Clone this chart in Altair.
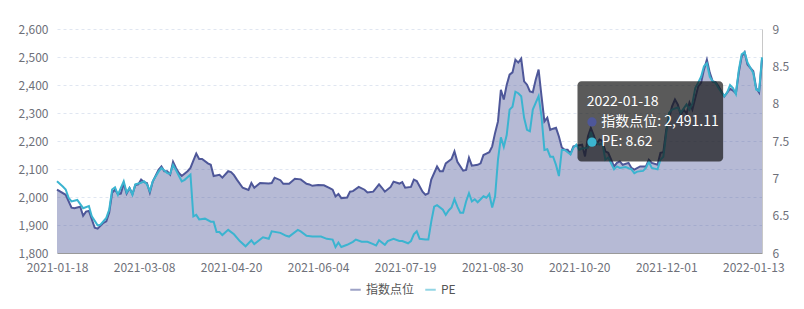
import altair as alt
import pandas as pd

# ---------------- data ----------------
x_labels = ["2021-01-18", "2021-03-08", "2021-04-20", "2021-06-04", "2021-07-19",
            "2021-08-30", "2021-10-20", "2021-12-01", "2022-01-13"]

idx_days = [0, 3, 5, 6, 8, 9, 10, 11, 13, 14, 16, 17, 18, 19, 20, 21, 22, 23, 24, 25,
            26, 27, 28, 29, 30, 31, 32, 33, 35, 36, 37, 38, 39, 40, 41, 42, 43, 45, 46, 47,
            48, 49, 50, 52, 53, 54, 56, 57, 59, 60, 61, 62, 64, 66, 67, 68, 70, 73, 74, 75,
            77, 78, 80, 82, 84, 86, 87, 88, 90, 92, 94, 95, 96, 97, 98, 100, 101, 102, 104, 106,
            107, 109, 111, 112, 113, 115, 116, 118, 119, 120, 122, 123, 124, 126, 127, 128, 129, 131, 132, 133,
            134, 136, 137, 138, 140, 141, 142, 143, 145, 146, 147, 148, 149, 150, 151, 152, 153, 154, 155, 156,
            157, 158, 159, 160, 161, 162, 163, 164, 165, 166, 167, 168, 169, 170, 171, 172, 173, 174, 175, 176,
            177, 178, 180, 181, 182, 183, 184, 185, 186, 187, 188, 189, 190, 192, 193, 194, 195, 197, 198, 199,
            201, 203, 204, 205, 207, 208, 209, 210, 212, 213, 214, 215, 216, 217, 218, 219, 221, 222, 223, 224,
            225, 226, 227, 228, 230, 231, 232, 233, 234, 235, 236, 237, 238, 240, 241, 242, 243]
idx_vals = [2026, 2008, 1962, 1960, 1965, 1933, 1948, 1950, 1890, 1887, 1908, 1913, 1945, 2015, 2026, 2010, 2012, 2048, 2012, 2032,
            2010, 2043, 2045, 2062, 2053, 2050, 2016, 2055, 2097, 2109, 2092, 2092, 2080, 2126, 2104, 2086, 2075, 2092, 2104, 2130,
            2155, 2136, 2136, 2120, 2115, 2075, 2079, 2069, 2092, 2089, 2078, 2062, 2033, 2025, 2050, 2033, 2050, 2048, 2050, 2069,
            2060, 2047, 2047, 2065, 2063, 2047, 2045, 2040, 2043, 2042, 2032, 2026, 2002, 2011, 1996, 1998, 2019, 2021, 2036, 2026,
            2016, 2019, 2045, 2033, 2019, 2036, 2055, 2048, 2053, 2033, 2036, 2062, 2057, 2019, 2008, 2013, 2062, 2109, 2092, 2092,
            2120, 2136, 2163, 2126, 2094, 2097, 2140, 2112, 2115, 2120, 2150, 2155, 2160, 2181, 2229, 2270, 2383, 2348, 2400, 2437,
            2445, 2490, 2480, 2494, 2413, 2401, 2377, 2374, 2419, 2455, 2360, 2270, 2283, 2240, 2244, 2247, 2216, 2177, 2169, 2169,
            2155, 2181, 2185, 2187, 2145, 2216, 2247, 2220, 2190, 2205, 2200, 2163, 2158, 2109, 2122, 2127, 2115, 2122, 2104, 2098,
            2109, 2109, 2133, 2122, 2115, 2158, 2160, 2240, 2324, 2348, 2330, 2294, 2312, 2298, 2337, 2312, 2395, 2408, 2455, 2490,
            2444, 2413, 2410, 2395, 2359, 2373, 2387, 2380, 2370, 2444, 2502, 2517, 2473, 2449, 2389, 2373, 2491.11]

pe_days = [0, 2, 3, 4, 5, 7, 9, 11, 12, 14, 15, 17, 18, 19, 20, 21, 23, 24, 25, 26,
           27, 29, 30, 31, 32, 33, 35, 36, 38, 39, 40, 41, 43, 44, 46, 47, 48, 49, 51, 53,
           54, 55, 56, 57, 59, 61, 63, 65, 67, 68, 71, 73, 74, 77, 79, 80, 83, 84, 86, 88,
           90, 91, 93, 95, 96, 97, 98, 100, 102, 103, 105, 107, 109, 110, 111, 113, 114, 116, 118, 119,
           121, 122, 123, 124, 125, 127, 128, 129, 130, 131, 133, 134, 135, 136, 137, 138, 139, 140, 141, 142,
           143, 144, 145, 147, 148, 149, 150, 151, 152, 153, 154, 155, 156, 157, 158, 159, 160, 161, 162, 163,
           164, 166, 167, 168, 169, 170, 171, 172, 173, 174, 175, 177, 178, 179, 180, 181, 183, 184, 185, 186,
           187, 188, 189, 190, 192, 193, 194, 196, 198, 199, 200, 202, 203, 204, 205, 207, 208, 209, 210, 211,
           212, 214, 215, 217, 218, 219, 220, 221, 222, 223, 224, 225, 226, 227, 228, 230, 231, 232, 233, 234,
           235, 236, 237, 238, 240, 241, 242, 243]
pe_vals = [6.96, 6.89, 6.85, 6.74, 6.69, 6.71, 6.60, 6.63, 6.49, 6.37, 6.38, 6.47, 6.58, 6.85, 6.88, 6.78, 6.96, 6.81, 6.87, 6.78,
           6.92, 6.94, 6.96, 6.92, 6.83, 6.96, 7.09, 7.14, 7.07, 7.06, 7.18, 7.11, 6.96, 6.98, 7.05, 6.49, 6.51, 6.45, 6.46, 6.42,
           6.42, 6.28, 6.28, 6.24, 6.31, 6.25, 6.16, 6.09, 6.17, 6.12, 6.21, 6.19, 6.29, 6.27, 6.23, 6.22, 6.31, 6.29, 6.23, 6.22,
           6.22, 6.22, 6.19, 6.18, 6.08, 6.14, 6.08, 6.11, 6.15, 6.18, 6.15, 6.15, 6.12, 6.10, 6.17, 6.11, 6.16, 6.19, 6.16, 6.16,
           6.13, 6.16, 6.25, 6.29, 6.19, 6.18, 6.18, 6.42, 6.62, 6.64, 6.58, 6.51, 6.57, 6.61, 6.72, 6.62, 6.54, 6.54, 6.69, 6.80,
           6.69, 6.72, 6.68, 6.76, 6.74, 6.79, 6.61, 6.76, 7.25, 7.55, 7.42, 7.58, 7.92, 7.96, 8.16, 8.14, 8.10, 7.81, 7.65, 7.63,
           7.92, 8.10, 7.83, 7.38, 7.39, 7.29, 7.29, 7.18, 7.03, 7.38, 7.38, 7.32, 7.41, 7.45, 7.38, 7.40, 7.41, 7.62, 7.50, 7.47,
           7.45, 7.47, 7.25, 7.28, 7.12, 7.16, 7.14, 7.15, 7.12, 7.07, 7.09, 7.10, 7.14, 7.22, 7.14, 7.12, 7.25, 7.29, 7.61, 7.88,
           7.92, 7.95, 7.88, 7.99, 7.92, 8.00, 8.21, 8.28, 8.36, 8.50, 8.54, 8.36, 8.30, 8.28, 8.21, 8.10, 8.15, 8.25, 8.21, 8.13,
           8.45, 8.66, 8.69, 8.55, 8.41, 8.19, 8.17, 8.62]

series_names = ["指数点位", "PE"]
tip_title = "2022-01-18"
tip_lines = ["指数点位: 2,491.11", "PE: 8.62"]

# ---------------- style ----------------
IDX_COLOR = "#4e5799"
PE_COLOR = "#3bb4d0"
FONT = "Noto Sans CJK SC"
LABEL_COLOR = "#6e7079"

idx_df = pd.DataFrame({"day": idx_days, "value": idx_vals, "series": series_names[0]})
pe_df = pd.DataFrame({"day": pe_days, "pe": pe_vals, "series": series_names[1]})

xscale = alt.Scale(domain=[0, 243], nice=False, zero=False)
yscale = alt.Scale(domain=[1800, 2600], nice=False, zero=False)
pescale = alt.Scale(domain=[6, 9], nice=False, zero=False)
color_scale = alt.Scale(domain=series_names, range=[IDX_COLOR, PE_COLOR])

label_expr = "[" + ",".join(f"'{s}'" for s in x_labels) + "][round(datum.value / 30)]"
xaxis = alt.Axis(values=list(range(0, 241, 30)), labelExpr=label_expr, grid=False, ticks=False,
                 domainColor="#9a9a9a", labelColor=LABEL_COLOR, labelFontSize=12, labelPadding=9,
                 labelFlush=False, title=None)
left_axis = alt.Axis(values=list(range(1800, 2601, 100)), labelExpr="format(datum.value, ',.0f')",
                     grid=True, gridDash=[3, 3],
                     gridColor="#e0e6f1", domain=False, ticks=False, labelPadding=9,
                     labelColor=LABEL_COLOR, labelFontSize=12, title=None)
right_axis = alt.Axis(orient="right", values=[6, 6.5, 7, 7.5, 8, 8.5, 9],
                      labelExpr="format(datum.value, '~g')", grid=False,
                      domain=True, domainColor="#c8c8c8", ticks=False, labelPadding=10,
                      labelColor=LABEL_COLOR, labelFontSize=12, title=None)
legend = alt.Legend(orient="none", legendX=292, legendY=254, direction="horizontal",
                    symbolType="stroke", symbolStrokeWidth=2, symbolSize=110, symbolOpacity=0.55,
                    labelFontSize=12, labelColor="#555555", title=None, columnPadding=6,
                    labelFont=FONT)

X = alt.X("day:Q", scale=xscale, axis=xaxis)

area = alt.Chart(idx_df).mark_area(color=IDX_COLOR, opacity=0.41).encode(
    x=X, y=alt.Y("value:Q", scale=yscale, axis=left_axis), y2=alt.datum(1800))
idx_line = alt.Chart(idx_df).mark_line(strokeWidth=2).encode(
    x=X, y=alt.Y("value:Q", scale=yscale, axis=left_axis),
    color=alt.Color("series:N", scale=color_scale, legend=legend))
idx_layer = alt.layer(area, idx_line)

pe_line = alt.Chart(pe_df).mark_line(strokeWidth=2).encode(
    x=X, y=alt.Y("pe:Q", scale=pescale, axis=right_axis),
    color=alt.Color("series:N", scale=color_scale, legend=legend))

# ---------------- tooltip box (anchored in data units near the last point) ----------------
tip_box = pd.DataFrame({"day": [179.4], "x1": [229.6], "y0": [2413], "y1": [2127]})
tip_rect = alt.Chart(tip_box).mark_rect(color="#141414", opacity=0.7, cornerRadius=4).encode(
    x=X, x2="x1:Q",
    y=alt.Y("y0:Q", scale=yscale, axis=None), y2="y1:Q")

tip_text = pd.DataFrame({"day": [182.6, 187.6, 187.6],
                         "val": [2340, 2268, 2196],
                         "txt": [tip_title] + tip_lines})
tip_texts = alt.Chart(tip_text).mark_text(align="left", baseline="middle", color="white",
                                          fontSize=14, font=FONT).encode(
    x=X, y=alt.Y("val:Q", scale=yscale, axis=None), text="txt:N")

dot_df = pd.DataFrame({"day": [184.4, 184.4], "val": [2268, 2196], "c": [IDX_COLOR, PE_COLOR]})
dots = alt.Chart(dot_df).mark_circle(size=85, opacity=1).encode(
    x=X, y=alt.Y("val:Q", scale=yscale, axis=None),
    fill=alt.Fill("c:N", scale=None))

chart = alt.layer(idx_layer, pe_line, tip_rect, tip_texts, dots).resolve_scale(
    y="independent"
).properties(
    width=705, height=224,
    padding={"left": 57, "top": 29, "right": 42, "bottom": 56},
    autosize="none",
).configure(font=FONT).configure_view(stroke=None)

chart.save("out.html", embed_options={"renderer": "svg", "actions": False})
